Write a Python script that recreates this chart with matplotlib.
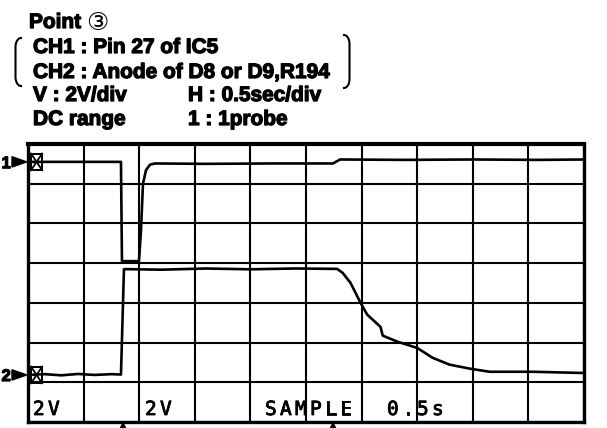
import numpy as np
import matplotlib
matplotlib.use("Agg")
import matplotlib.pyplot as plt
import matplotlib.patheffects as pe
from matplotlib.lines import Line2D
from matplotlib.patches import Polygon, Rectangle

W, H = 607, 428          # canvas size in px (dpi 100)

# scope settings: 0.5 s/div, 2 V/div, 10 x 7 graticule
SEC_PER_DIV = 0.5
VOLT_PER_DIV = 2.0
N_HDIV, N_VDIV = 10, 7

# ground-marker positions on screen (volts from bottom of graticule)
CH1_ZERO = 13.1
CH2_ZERO = 2.37

# CH1 : Pin 27 of IC5  (time s, volts relative to CH1 ground marker)
ch1_t = [0.0, 0.40, 0.836, 0.845, 0.998, 1.016, 1.034, 1.061, 1.097, 1.142,
         1.60, 2.20, 2.743, 2.806, 3.40, 4.00, 4.60, 5.0]
ch1_v = [0.0, 0.0, 0.0, -5.0, -5.0, -3.45, -1.10, -0.42, -0.14, -0.08,
         -0.10, -0.08, -0.08, 0.12, 0.10, 0.12, 0.10, 0.12]

# CH2 : Anode of D8 or D9,R194
ch2_t = [0.0, 0.15, 0.30, 0.45, 0.60, 0.75, 0.836, 0.863,
         1.20, 1.60, 2.00, 2.40, 2.78, 2.83, 2.90, 2.99, 3.05, 3.17, 3.19,
         3.32, 3.50, 3.64, 3.79, 3.97, 4.15, 4.54, 4.98]
ch2_v = [0.0, 0.04, -0.02, 0.05, 0.0, 0.04, 0.02, 5.33,
         5.30, 5.36, 5.32, 5.36, 5.34, 5.14, 4.64, 3.64, 3.04, 2.42, 1.98,
         1.68, 1.36, 0.86, 0.52, 0.32, 0.16, 0.16, 0.10]

header_left = ["CH1 : Pin 27 of IC5", "CH2 : Anode of D8 or D9,R194",
               "V : 2V/div", "DC range"]
header_right = ["", "", "H : 0.5sec/div", "1 : 1probe"]
header_base = [53, 78, 101, 125]

# readout strings along the bottom row of the screen: (text, left px)
readouts = [("2V", 33), ("2V", 145), ("SAMPLE", 265), ("0.5s", 387)]
READOUT_PITCH = 15


def fx(x):
    return x / W


def fy(y):
    return 1 - y / H


fig = plt.figure(figsize=(W / 100, H / 100), dpi=100)
fig.patch.set_facecolor("white")

heavy = [pe.withStroke(linewidth=0.9, foreground="black")]
bold = dict(family=["Liberation Sans", "DejaVu Sans"], weight="bold",
            size=15, color="black", va="baseline", path_effects=heavy)

# ── Header text ───────────────────────────────────────────────────────────
fig.text(fx(29), fy(28), "Point", **bold)
fig.text(fx(86), fy(30), "\u2462", family=["DejaVu Sans"], size=18,
         va="baseline", color="black")
for txt, txt2, yb in zip(header_left, header_right, header_base):
    fig.text(fx(33), fy(yb), txt, **bold)
    if txt2:
        fig.text(fx(188), fy(yb), txt2, **bold)


def bracket(x_edge, x_mid, y0, y1, r=9):
    """Round-ended bracket spanning the two channel lines."""
    a = np.linspace(0, np.pi / 2, 12)
    xs = [x_edge - (x_edge - x_mid) * np.sin(t) for t in a]
    ys = [y0 + r * (1 - np.cos(t)) for t in a]
    xs += [x_edge - (x_edge - x_mid) * np.sin(t) for t in a[::-1]]
    ys += [y1 - r * (1 - np.cos(t)) for t in a[::-1]]
    fig.add_artist(Line2D([fx(v) for v in xs], [fy(v) for v in ys],
                          color="black", lw=1.5))


bracket(21, 15.5, 38, 86)
bracket(344, 349.5, 35, 88)

# ── Graticule ─────────────────────────────────────────────────────────────
ax = fig.add_axes([fx(28), fy(422), (584 - 28) / W, (422 - 144) / H])
ax.set_xlim(0, N_HDIV * SEC_PER_DIV)
ax.set_ylim(0, N_VDIV * VOLT_PER_DIV)
ax.set_xticks(np.arange(0, N_HDIV + 1) * SEC_PER_DIV)
ax.set_yticks(np.arange(0, N_VDIV + 1) * VOLT_PER_DIV)
ax.tick_params(length=0, labelleft=False, labelbottom=False)
ax.grid(True, color="black", lw=1.5)
for s in ax.spines.values():
    s.set_linewidth(2.4)
ax.spines["top"].set_linewidth(3.0)

# ── Traces ────────────────────────────────────────────────────────────────
ax.plot(ch1_t, np.array(ch1_v) + CH1_ZERO, color="black", lw=1.9,
        solid_joinstyle="round", zorder=5)
ax.plot(ch2_t, np.array(ch2_v) + CH2_ZERO, color="black", lw=1.9,
        solid_joinstyle="round", zorder=5)

# ground markers: arrow outside the screen, crossed box inside
for zero, lab in [(CH1_ZERO, "1"), (CH2_ZERO, "2")]:
    ax.add_patch(Polygon([(-0.144, zero + 0.26), (-0.144, zero - 0.26),
                          (-0.012, zero)], closed=True, color="black",
                         clip_on=False, zorder=6))
    ax.add_patch(Rectangle((0.027, zero - 0.42), 0.1, 0.84, fill=False,
                           ec="black", lw=1.4, clip_on=False, zorder=6))
    ax.plot([0.027, 0.127], [zero - 0.42, zero + 0.42], color="black",
            lw=1.3, zorder=6)
    ax.plot([0.027, 0.127], [zero + 0.42, zero - 0.42], color="black",
            lw=1.3, zorder=6)
    y_px = 422 - zero / VOLT_PER_DIV * 39.67
    fig.text(fx(1.5), fy(y_px + 6), lab, ha="left",
             family=["Liberation Sans", "DejaVu Sans"], weight="bold",
             size=12, color="black", va="baseline", path_effects=heavy)

# trigger marks under the screen
for xm in (123, 333):
    fig.add_artist(Polygon([(fx(xm - 3), fy(429)), (fx(xm + 3), fy(429)),
                            (fx(xm), fy(423))], closed=True, color="black"))

# ── Screen readouts ───────────────────────────────────────────────────────
thin = [pe.withStroke(linewidth=0.6, foreground="black")]
for txt, x0 in readouts:
    for i, ch in enumerate(txt):
        fig.text(fx(x0 + i * READOUT_PITCH), fy(415), ch,
                 family="DejaVu Sans Mono", size=14, color="black",
                 va="baseline", ha="left", path_effects=thin)

fig.savefig("out.png", dpi=100, facecolor="white")
